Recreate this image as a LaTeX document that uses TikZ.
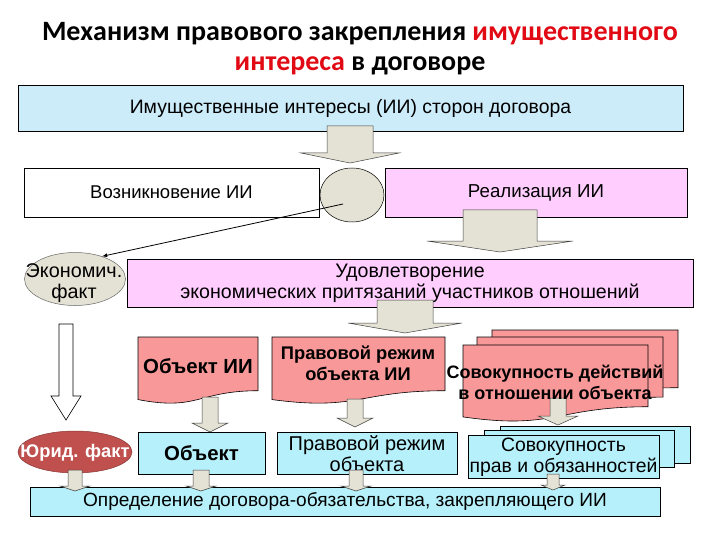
\documentclass[tikz,border=0pt]{standalone}
\usepackage{fontspec}
\setmainfont{Liberation Sans}
\newfontfamily\titlefont{Carlito}
\usetikzlibrary{shapes.geometric}

\definecolor{iiblue}{RGB}{204,236,250}
\definecolor{iicyan}{RGB}{182,240,250}
\definecolor{iipink}{RGB}{255,206,255}
\definecolor{iisalmon}{RGB}{248,152,152}
\definecolor{iibeige}{RGB}{228,226,212}
\definecolor{iibrick}{RGB}{192,80,77}
\definecolor{iired}{RGB}{225,10,20}

\tikzset{
  box/.style={draw,line width=.8pt,inner sep=0pt,align=center},
  beigearr/.style={draw=black!75,line width=.5pt,fill=iibeige},
  openarr/.style={draw,line width=.6pt,fill=white},
  sheet/.style={draw,line width=.6pt,fill=iisalmon},
  fs/.style={font=\fontsize{#1}{21}\selectfont},
  fsb/.style={font=\fontsize{#1}{21}\selectfont\bfseries}
}

% block arrow: x, y top, y tip, half shaft, half head, head length
\newcommand{\barrow}[7][beigearr]{%
  \draw[#1] ({#2-#5},#3) -- ({#2-#5},{#4-#7}) -- ({#2-#6},{#4-#7}) -- (#2,#4)
    -- ({#2+#6},{#4-#7}) -- ({#2+#5},{#4-#7}) -- ({#2+#5},#3) -- cycle;}
% sheet with wavy bottom: x, y, width, height
\newcommand{\docsheet}[4]{%
  \draw[sheet] (#1,#2) -- ({#1+#3},#2) -- ({#1+#3},{#2+.802*#4})
    .. controls ({#1+.5*#3},{#2+.802*#4}) and ({#1+.5*#3},{#2+1.107*#4}) .. (#1,{#2+.934*#4}) -- cycle;}

\begin{document}
\begin{tikzpicture}[x=1pt,y=-1pt,>=latex,font=\fontsize{19}{21}\selectfont]
\useasboundingbox (0,0) rectangle (720,540);
\node (t1) at (360,34) {\titlefont\fontsize{28}{30}\selectfont\bfseries Механизм правового закрепления \textcolor{iired}{имущественного}};
\node (t2) at (360,66) {\titlefont\fontsize{28}{30}\selectfont\bfseries\textcolor{iired}{интереса} в договоре};

\node[box,fill=iiblue,minimum width=665pt,minimum height=46pt,fs=19.4] (ii) at (350.5,108) {Имущественные интересы (ИИ) сторон договора};
\barrow{350}{126}{163}{23}{49}{10}
\node[box,fill=white,minimum width=295pt,minimum height=49pt,fs=18.5] (voz) at (171.5,192.5) {Возникновение ИИ};
\node[box,fill=iipink,minimum width=302pt,minimum height=49pt,fs=18.7] (real) at (536,192.5) {Реализация ИИ};
\node[ellipse,draw,line width=.5pt,fill=iibeige,inner sep=0pt,minimum width=64pt,minimum height=54pt] (circ) at (352,195) {};
\barrow{500}{210}{252}{37}{73}{11}

\node[box,fill=iipink,minimum width=566pt,minimum height=48pt,fs=19.6] (udov) at (410,283) {Удовлетворение\\экономических притязаний участников отношений};
\node[ellipse,draw=black!60,line width=.5pt,fill=iibeige,inner sep=0pt,minimum width=101pt,minimum height=53pt] (econ) at (75,279) {};
\node[align=center,fs=19.8] (econtxt) at (74,283) {Экономич.\\факт};
\coordinate (lnstart) at (343,204);
\draw[->,line width=.8pt] (lnstart) -- (econ.40);
\barrow{405}{300}{333}{28}{57}{10}

\barrow[openarr]{66}{324}{420}{7}{15}{24}

\docsheet{138}{337}{120}{67}
\docsheet{272}{337}{173}{67}
\docsheet{492}{330}{186}{72}
\docsheet{477}{337}{186}{75}
\docsheet{463}{345}{185}{77}
\barrow{210}{397}{432}{8}{18}{9}
\barrow{355}{399}{427}{8}{18}{9}
\barrow{558}{398}{425}{8}{20}{9}
\node[fsb=20.4] (obii) at (198,366) {Объект ИИ};
\node[fsb=18.3,align=center] (prii) at (358,363) {Правовой режим\\объекта ИИ};
\node[fsb=18,align=center] (sdei) at (555,382) {Совокупность действий\\в отношении объекта};

\node[ellipse,draw=iibrick!70!black,line width=.5pt,fill=iibrick,inner sep=0pt,minimum width=114pt,minimum height=42pt] (jur) at (75,452) {};
\node[text=white,fsb=18.3] (jurtxt) at (75,453) {Юрид. факт};
\node[box,fill=iicyan,minimum width=127pt,minimum height=42pt,fsb=20.4] (obj) at (201.5,453) {Объект};
\node[box,fill=iicyan,minimum width=180pt,minimum height=42pt,fs=20] (prob) at (367,453.5) {Правовой режим\\объекта};
\draw[box,fill=iicyan] (500,426) rectangle (690,463);
\draw[box,fill=iicyan] (484,430) rectangle (674,467);
\node[box,fill=iicyan,minimum width=191pt,minimum height=43pt,fs=19.4] (sovpr) at (563.5,457) {Совокупность\\прав и обязанностей};

\node[box,fill=iicyan,minimum width=630pt,minimum height=29pt,fs=19.1] (opr) at (345,501.5) {Определение договора-обязательства, закрепляющего ИИ};
\barrow{75}{470}{491}{7}{15}{5}
\barrow{201}{470}{491}{8}{15}{5}
\barrow{356}{470}{491}{7}{15}{5}
\barrow{553}{474}{490}{6}{12}{5}
\end{tikzpicture}
\end{document}
